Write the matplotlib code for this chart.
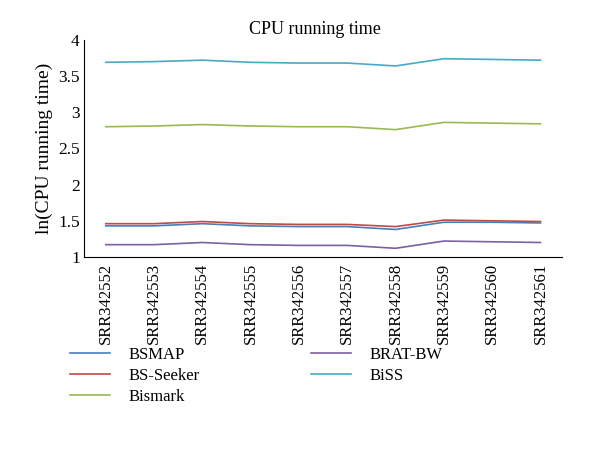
import matplotlib.pyplot as plt
import numpy as np

plt.rcParams['font.family'] = ['Liberation Serif', 'DejaVu Serif']

samples = ["SRR342552", "SRR342553", "SRR342554", "SRR342555", "SRR342556",
           "SRR342557", "SRR342558", "SRR342559", "SRR342560", "SRR342561"]

bsmap = [1.43, 1.43, 1.46, 1.43, 1.42, 1.42, 1.38, 1.48, 1.48, 1.47]
bs_seeker = [1.46, 1.46, 1.49, 1.46, 1.45, 1.45, 1.42, 1.51, 1.50, 1.49]
bismark = [2.80, 2.81, 2.83, 2.81, 2.80, 2.80, 2.76, 2.86, 2.85, 2.84]
brat_bw = [1.17, 1.17, 1.20, 1.17, 1.16, 1.16, 1.12, 1.22, 1.21, 1.20]
biss = [3.69, 3.70, 3.72, 3.69, 3.68, 3.68, 3.64, 3.74, 3.73, 3.72]

series = [
    ("BSMAP", bsmap, "#4a7ebb"),
    ("BS-Seeker", bs_seeker, "#be4b48"),
    ("Bismark", bismark, "#98b954"),
    ("BRAT-BW", brat_bw, "#7d60a0"),
    ("BiSS", biss, "#46aac5"),
]

fig = plt.figure(figsize=(6, 4.75), dpi=100)
ax = fig.add_axes([0.14, 0.459, 0.797, 0.457])

x = np.arange(len(samples))
for name, vals, col in series:
    ax.plot(x, vals, color=col, linewidth=1.2, label=name)

ax.set_xlim(-0.45, 9.45)
ax.set_ylim(1, 4)
ax.set_yticks([1, 1.5, 2, 2.5, 3, 3.5, 4])
ax.set_yticklabels(["1", "1.5", "2", "2.5", "3", "3.5", "4"])
ax.set_xticks(x)
ax.set_xticklabels(samples, rotation=90)
ax.tick_params(axis='x', length=0, labelsize=12, pad=4)
ax.tick_params(axis='y', length=0, labelsize=12.5, pad=3)
ax.spines['top'].set_visible(False)
ax.spines['right'].set_visible(False)
ax.set_ylabel("ln(CPU running time)", fontsize=14)
ax.set_title("CPU running time", fontsize=13, pad=4.5, x=0.483)

fig.legend(loc='upper left', bbox_to_anchor=(0.092, 0.302), ncol=2, frameon=False,
           fontsize=12, handlelength=2.4, handletextpad=1.1, columnspacing=6.7,
           labelspacing=0.3)

fig.savefig("out.png", dpi=100)
